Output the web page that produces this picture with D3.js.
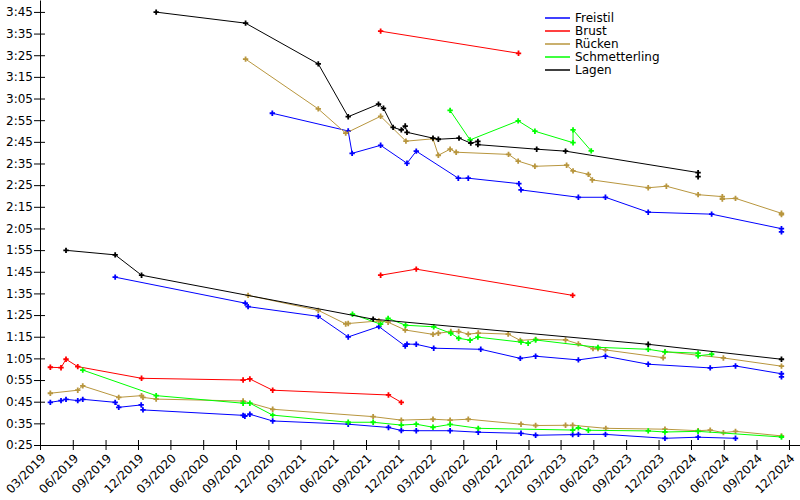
<!DOCTYPE html>
<html>
<head>
<meta charset="utf-8">
<script src="https://cdn.jsdelivr.net/npm/d3@7"></script>
<style>
  body { margin: 0; background: #fff; }
  text { font-family: "DejaVu Sans", sans-serif; font-size: 12px; fill: #000; }
</style>
</head>
<body>
<svg id="chart" width="800" height="500"></svg>
<script>
// swim times per stroke and distance: [date, seconds]
const freistil50 = [["2019-03-30",44.7],["2019-04-29",45.5],["2019-05-13",46.1],["2019-06-15",45.5],["2019-06-29",46.1],
  ["2019-09-28",44.7],["2019-10-08",42.4],["2019-12-10",43.5],["2019-12-15",41.2],["2020-09-21",38.7],["2020-09-26",38.3],
  ["2020-10-10",39.2],["2020-12-13",36.1],["2021-07-13",34.6],["2021-11-03",33.1],["2021-12-09",31.7],["2022-01-20",31.6],
  ["2022-04-25",31.6],["2022-07-13",30.9],["2022-11-10",30.4],["2022-12-21",29.5],["2023-04-04",29.8],["2023-04-20",29.9],
  ["2023-07-05",29.9],["2023-12-19",28.1],["2024-03-21",28.6],["2024-07-04",28.1]];
const freistil100 = [["2019-09-28",102.5],["2020-09-27",90.5],["2020-10-05",88.9],["2021-04-20",84.4],["2021-07-13",74.9],
  ["2021-10-07",79.7],["2021-12-20",70.7],["2021-12-25",71.6],["2022-01-20",71.5],["2022-03-10",69.7],["2022-07-20",69.2],
  ["2022-11-08",65.0],["2022-12-21",66.0],["2023-04-20",64.3],["2023-07-05",66.0],["2023-11-02",62.3],["2024-04-24",60.6],
  ["2024-07-04",61.5],["2024-11-10",57.9],["2024-11-10",56.5]];
const freistil200 = [["2020-12-12",178.2],["2021-07-13",170.0],["2021-07-24",159.7],["2021-10-12",163.4],["2021-12-25",155.1],
  ["2022-01-20",160.7],["2022-05-18",148.2],["2022-06-15",148.2],["2022-11-04",145.7],["2022-11-10",142.8],["2023-04-20",139.4],
  ["2023-07-05",139.4],["2023-11-02",132.5],["2024-04-28",131.6],["2024-11-10",124.9],["2024-11-10",123.4]];

const brust50 = [["2019-03-30",60.9],["2019-04-29",60.7],["2019-05-13",64.6],["2019-06-15",61.2],["2019-12-11",55.8],
  ["2020-09-21",55.0],["2020-10-10",55.5],["2020-12-13",50.3],["2021-11-03",48.1],["2021-12-09",44.7]];
const brust100 = [["2021-10-12",103.4],["2022-01-20",106.2],["2023-04-04",94.1]];
const brust200 = [["2021-10-12",216.1],["2022-11-03",205.9]];

const ruecken50 = [["2019-03-30",48.9],["2019-06-15",50.3],["2019-06-29",52.3],["2019-10-08",47.0],["2019-12-11",47.8],
  ["2019-12-15",47.0],["2020-01-21",46.2],["2020-09-21",45.3],["2020-12-13",41.5],["2021-09-21",38.1],["2021-12-09",36.5],
  ["2022-03-08",36.9],["2022-04-25",36.5],["2022-06-15",36.9],["2022-11-10",34.6],["2022-12-21",34.0],["2023-03-15",34.1],
  ["2023-04-04",34.1],["2023-07-06",32.7],["2023-12-19",32.3],["2024-03-21",31.6],["2024-04-24",31.9],["2024-05-31",30.7],
  ["2024-07-04",31.3],["2024-11-10",29.2]];
const ruecken100 = [["2020-10-05",94.1],["2021-04-20",87.2],["2021-07-06",80.9],["2021-07-13",81.1],["2021-10-07",82.3],
  ["2021-11-02",81.7],["2021-12-20",78.1],["2022-03-08",76.1],["2022-03-23",76.6],["2022-04-27",77.4],["2022-05-19",77.4],
  ["2022-06-15",76.2],["2022-07-13",76.7],["2022-10-05",76.2],["2022-11-08",73.3],["2022-12-21",73.8],["2023-03-15",73.5],
  ["2023-04-20",71.7],["2023-05-31",69.5],["2023-06-14",69.5],["2023-07-05",68.9],["2023-12-14",65.3],["2023-12-19",68.1],
  ["2024-05-31",65.2],["2024-11-10",61.4]];
const ruecken200 = [["2020-09-28",203.2],["2021-04-20",180.2],["2021-07-06",169.0],["2021-10-12",176.8],["2021-12-22",165.3],
  ["2022-03-08",166.4],["2022-03-23",158.8],["2022-04-25",161.6],["2022-05-12",160.2],["2022-10-06",159.2],["2022-11-02",156.1],
  ["2022-12-19",153.7],["2023-03-18",154.2],["2023-04-05",151.6],["2023-05-18",150.0],["2023-05-29",147.4],["2023-11-02",143.8],
  ["2023-12-23",144.5],["2024-03-21",140.6],["2024-05-28",139.7],["2024-05-28",138.6],["2024-07-04",138.9],["2024-11-10",132.0],
  ["2024-11-10",131.4]];

const schmetterling50 = [["2019-06-29",59.6],["2020-01-21",47.8],["2020-09-21",44.3],["2020-10-10",44.3],["2020-12-13",38.8],
  ["2021-07-13",35.5],["2021-09-21",35.5],["2021-12-09",34.2],["2022-01-20",34.6],["2022-03-08",33.2],["2022-04-25",34.5],
  ["2022-07-13",32.7],["2023-04-04",31.9],["2023-04-20",32.9],["2023-05-18",31.8],["2023-11-02",31.5],["2023-12-19",31.0],
  ["2024-03-21",31.3],["2024-11-10",28.7]];
const schmetterling100 = [["2021-07-25",85.4],["2021-10-12",80.8],["2021-11-02",83.5],["2021-12-21",80.3],["2022-03-10",79.6],
  ["2022-04-27",76.6],["2022-05-19",74.3],["2022-06-20",73.4],["2022-07-12",74.8],["2022-11-10",72.5],["2022-11-30",72.0],
  ["2022-12-21",73.5],["2023-06-14",70.1],["2023-11-02",69.2],["2023-12-19",68.0],["2024-03-21",67.4],["2024-03-21",66.2],
  ["2024-04-28",66.9]];
const schmetterling200 = [["2022-04-25",179.5],["2022-06-20",165.9],["2022-11-02",174.7],["2022-12-19",169.9],
  ["2023-04-05",164.6],["2023-04-05",170.5],["2023-05-26",160.8]];

const lagen100 = [["2019-05-13",114.9],["2019-09-28",112.8],["2019-12-11",103.4],["2021-09-21",83.1],["2023-11-02",71.5],
  ["2024-11-10",64.6]];
const lagen200 = [["2020-01-21",224.9],["2020-09-28",219.8],["2021-04-20",201.0],["2021-07-13",176.6],["2021-10-06",182.4],
  ["2021-10-20",180.5],["2021-11-16",171.7],["2021-12-09",170.5],["2021-12-20",172.3],["2021-12-25",169.4],["2022-03-08",166.7],
  ["2022-03-23",166.2],["2022-05-20",166.7],["2022-06-22",164.4],["2022-07-12",165.2],["2022-07-12",163.7],["2022-12-24",161.6],
  ["2023-03-15",160.7],["2024-03-21",150.8],["2024-03-21",148.9]];

// y ticks in seconds (0:25 ... 3:45)
const yTicks = [25,35,45,55,65,75,85,95,105,115,125,135,145,155,165,175,185,195,205,215,225];

const series = [
  {name: "Freistil", color: "#0000ff", lines: [freistil50, freistil100, freistil200]},
  {name: "Brust", color: "#ff0000", lines: [brust50, brust100, brust200]},
  {name: "Rücken", color: "#b8963e", lines: [ruecken50, ruecken100, ruecken200]},
  {name: "Schmetterling", color: "#00ff00", lines: [schmetterling50, schmetterling100, schmetterling200]},
  {name: "Lagen", color: "#000000", lines: [lagen100, lagen200]}
];

const parse = d3.timeParse("%Y-%m-%d");
const svg = d3.select("#chart");

const x = d3.scaleTime().domain([parse("2019-03-01"), parse("2025-01-01")]).range([40, 800]);
const y = d3.scaleLinear().domain([25, 230.5]).range([445, 0]);

const fmtTime = s => Math.floor(s / 60) + ":" + String(s % 60).padStart(2, "0");

// axes
const xAxis = svg.append("g").attr("transform", "translate(0,445)")
  .call(d3.axisBottom(x)
    .tickValues(d3.timeMonth.range(parse("2019-03-01"), parse("2025-01-01"), 3))
    .tickFormat(d3.timeFormat("%m/%Y"))
    .tickSize(5).tickSizeOuter(0));
xAxis.selectAll(".tick line").attr("y1", -5);
xAxis.selectAll("text")
  .attr("y", 0).attr("x", 0).attr("dy", "0.35em")
  .attr("transform", "translate(3,11) rotate(-45)")
  .style("text-anchor", "end");

const yAxis = svg.append("g").attr("transform", "translate(40,0)")
  .call(d3.axisLeft(y).tickValues(yTicks).tickFormat(fmtTime).tickSize(6).tickPadding(1).tickSizeOuter(0));
yAxis.selectAll(".tick line").attr("x1", 5);

svg.selectAll(".domain").attr("stroke", "#000");
svg.selectAll(".tick text").attr("font-size", 12).attr("font-family", "DejaVu Sans").attr("fill", "#000");

// lines + markers
const line = d3.line().x(d => x(parse(d[0]))).y(d => y(d[1]));
const marker = d3.symbol().type(d3.symbolCross).size(16);

series.forEach(s => {
  const g = svg.append("g").attr("class", "series");
  s.lines.forEach(pts => {
    g.append("path").datum(pts)
      .attr("d", line)
      .attr("fill", "none")
      .attr("stroke", s.color)
      .attr("stroke-width", 1);
    g.selectAll(null).data(pts).join("path")
      .attr("transform", d => `translate(${x(parse(d[0]))},${y(d[1])})`)
      .attr("d", marker)
      .attr("fill", s.color);
  });
});

// legend
const lg = svg.append("g").attr("transform", "translate(545,18)");
const items = lg.selectAll("g").data(series).join("g")
  .attr("transform", (d, i) => `translate(0,${i * 13})`);
items.append("line").attr("x1", 0).attr("x2", 25)
  .attr("stroke", d => d.color).attr("stroke-width", 1.5);
items.append("text").attr("x", 30).attr("dy", "0.35em").text(d => d.name);
</script>
</body>
</html>
